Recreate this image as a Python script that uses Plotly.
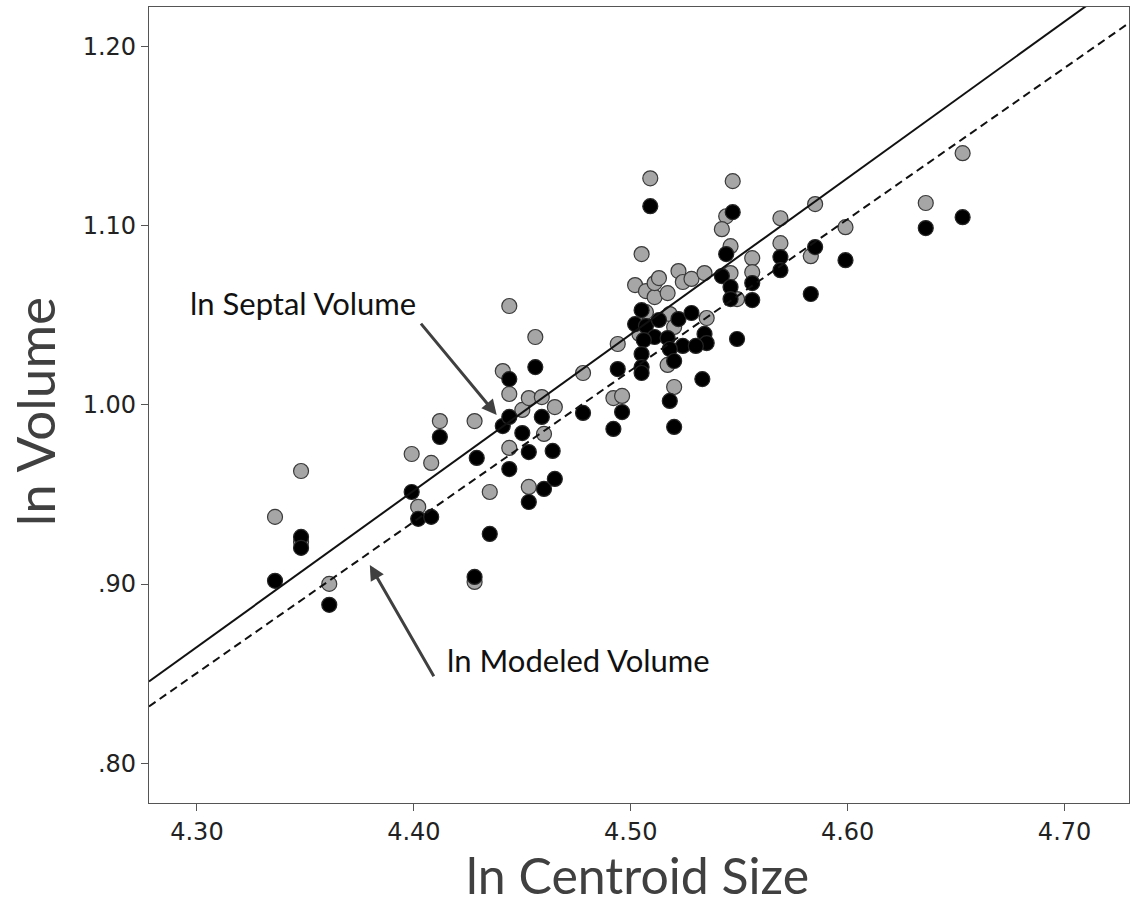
import plotly.graph_objects as go

# ln Septal Volume (grey points)
septal_x = [4.336, 4.348, 4.348, 4.361, 4.399, 4.402, 4.408, 4.412, 4.428, 4.428,
            4.435, 4.441, 4.444, 4.444, 4.444, 4.450, 4.453, 4.453, 4.459, 4.460,
            4.456, 4.465, 4.478, 4.492, 4.496, 4.494, 4.502, 4.505, 4.507, 4.509,
            4.511, 4.511, 4.513, 4.517, 4.522, 4.524, 4.528, 4.534, 4.507, 4.504,
            4.518, 4.520, 4.535, 4.517, 4.520, 4.547, 4.544, 4.542, 4.546, 4.546,
            4.549, 4.556, 4.556, 4.569, 4.569, 4.585, 4.583, 4.599, 4.636, 4.653]
septal_y = [0.9375, 0.9631, 0.9235, 0.9001, 0.9726, 0.9431, 0.9676, 0.9910, 0.9910, 0.9012,
            0.9514, 1.0189, 1.0552, 1.0061, 0.9760, 0.9972, 1.0038, 0.9542, 1.0044, 0.9838,
            1.0379, 0.9988, 1.0178, 1.0038, 1.0050, 1.0340, 1.0669, 1.0842, 1.0635, 1.1265,
            1.0602, 1.0680, 1.0708, 1.0624, 1.0747, 1.0686, 1.0703, 1.0736, 1.0518, 1.0396,
            1.0507, 1.0435, 1.0485, 1.0223, 1.0100, 1.1249, 1.1053, 1.0981, 1.0886, 1.0736,
            1.0591, 1.0819, 1.0741, 1.1042, 1.0903, 1.1121, 1.0830, 1.0992, 1.1127, 1.1405]

# ln Modeled Volume (black points)
modeled_x = [4.336, 4.348, 4.348, 4.361, 4.399, 4.402, 4.408, 4.412, 4.429, 4.428,
             4.435, 4.441, 4.444, 4.444, 4.444, 4.450, 4.453, 4.453, 4.459, 4.460,
             4.456, 4.464, 4.465, 4.478, 4.492, 4.496, 4.509, 4.505, 4.502, 4.507,
             4.513, 4.522, 4.528, 4.511, 4.506, 4.517, 4.534, 4.535, 4.524, 4.530,
             4.518, 4.549, 4.505, 4.520, 4.505, 4.505, 4.494, 4.533, 4.518, 4.520,
             4.547, 4.544, 4.542, 4.546, 4.546, 4.556, 4.556, 4.569, 4.569, 4.585,
             4.583, 4.599, 4.636, 4.653]
modeled_y = [0.9018, 0.9263, 0.9202, 0.8884, 0.9514, 0.9364, 0.9375, 0.9821, 0.9704, 0.9040,
             0.9280, 0.9882, 1.0144, 0.9933, 0.9642, 0.9843, 0.9737, 0.9458, 0.9933, 0.9531,
             1.0211, 0.9743, 0.9587, 0.9955, 0.9866, 0.9960, 1.1109, 1.0529, 1.0451, 1.0440,
             1.0474, 1.0479, 1.0513, 1.0379, 1.0362, 1.0373, 1.0396, 1.0345, 1.0329, 1.0329,
             1.0312, 1.0368, 1.0284, 1.0245, 1.0211, 1.0178, 1.0200, 1.0144, 1.0022, 0.9877,
             1.1076, 1.0842, 1.0719, 1.0658, 1.0591, 1.0680, 1.0585, 1.0825, 1.0752, 1.0881,
             1.0619, 1.0808, 1.0987, 1.1048]

# Fit lines (end points)
fit_x = [4.2779, 4.7297]
septal_fit_y = [0.8456, 1.2399]
modeled_fit_y = [0.8317, 1.2132]

x_ticks = [4.30, 4.40, 4.50, 4.60, 4.70]
x_tick_labels = ["4.30", "4.40", "4.50", "4.60", "4.70"]
y_ticks = [0.80, 0.90, 1.00, 1.10, 1.20]
y_tick_labels = [".80", ".90", "1.00", "1.10", "1.20"]

x_range = [4.2779, 4.7297]
y_range = [0.7778, 1.2221]

FONT = "Lato"
TICK_FONT = "DejaVu Sans"
fig = go.Figure()

fig.add_trace(go.Scatter(
    x=septal_x, y=septal_y, mode="markers", name="ln Septal Volume",
    marker=dict(size=15, color="#a6a6a6", line=dict(color="#3a3a3a", width=1.2)),
    showlegend=False, cliponaxis=True))
fig.add_trace(go.Scatter(
    x=modeled_x, y=modeled_y, mode="markers", name="ln Modeled Volume",
    marker=dict(size=15, color="#000000", line=dict(color="#262626", width=1.2)),
    showlegend=False, cliponaxis=True))
fig.add_trace(go.Scatter(
    x=fit_x, y=septal_fit_y, mode="lines",
    line=dict(color="#111111", width=2), showlegend=False, hoverinfo="skip"))
fig.add_trace(go.Scatter(
    x=fit_x, y=modeled_fit_y, mode="lines",
    line=dict(color="#111111", width=2, dash="8px,5px"), showlegend=False, hoverinfo="skip"))

axis_common = dict(showline=True, mirror=True, linecolor="#555555", linewidth=1.2,
                   ticks="outside", ticklen=7, tickcolor="#555555", tickwidth=1.2,
                   showgrid=False, zeroline=False,
                   tickfont=dict(family=TICK_FONT, size=24, color="#222222"))

fig.update_xaxes(range=x_range, tickvals=x_ticks, ticktext=x_tick_labels, **axis_common)
fig.update_yaxes(range=y_range, tickvals=y_ticks, ticktext=y_tick_labels, **axis_common)

annotations = [
    dict(text="ln Centroid Size", xref="paper", yref="paper", x=0.4987, y=-0.1290,
         showarrow=False, font=dict(family=FONT, size=50, color="#404040"),
         xanchor="center", yanchor="bottom", borderpad=0),
    dict(text="ln Volume", xref="paper", yref="paper", x=-0.1170, y=0.4912,
         showarrow=False, textangle=-90, font=dict(family=FONT, size=53, color="#404040"),
         xanchor="center", yanchor="middle"),
    dict(text="ln Septal Volume", xref="x", yref="y", x=4.2958, y=1.0568,
         showarrow=False, font=dict(family=FONT, size=31, color="#111111"),
         xanchor="left", yanchor="middle"),
    dict(text="ln Modeled Volume", xref="x", yref="y", x=4.4142, y=0.8577,
         showarrow=False, font=dict(family=FONT, size=31, color="#111111"),
         xanchor="left", yanchor="middle"),
    dict(text="", xref="x", yref="y", x=4.4382, y=0.9944, axref="x", ayref="y",
         ax=4.4027, ay=1.0462, showarrow=True, arrowhead=2, arrowsize=1,
         arrowwidth=3, arrowcolor="#404040"),
    dict(text="", xref="x", yref="y", x=4.3797, y=0.9107, axref="x", ayref="y",
         ax=4.4096, ay=0.8477, showarrow=True, arrowhead=2, arrowsize=1,
         arrowwidth=3, arrowcolor="#404040"),
]

fig.update_layout(
    width=1130, height=907,
    margin=dict(l=149, r=1, t=7, b=104, pad=0),
    paper_bgcolor="white", plot_bgcolor="white",
    annotations=annotations,
    showlegend=False,
)

fig.write_html("out.html")
